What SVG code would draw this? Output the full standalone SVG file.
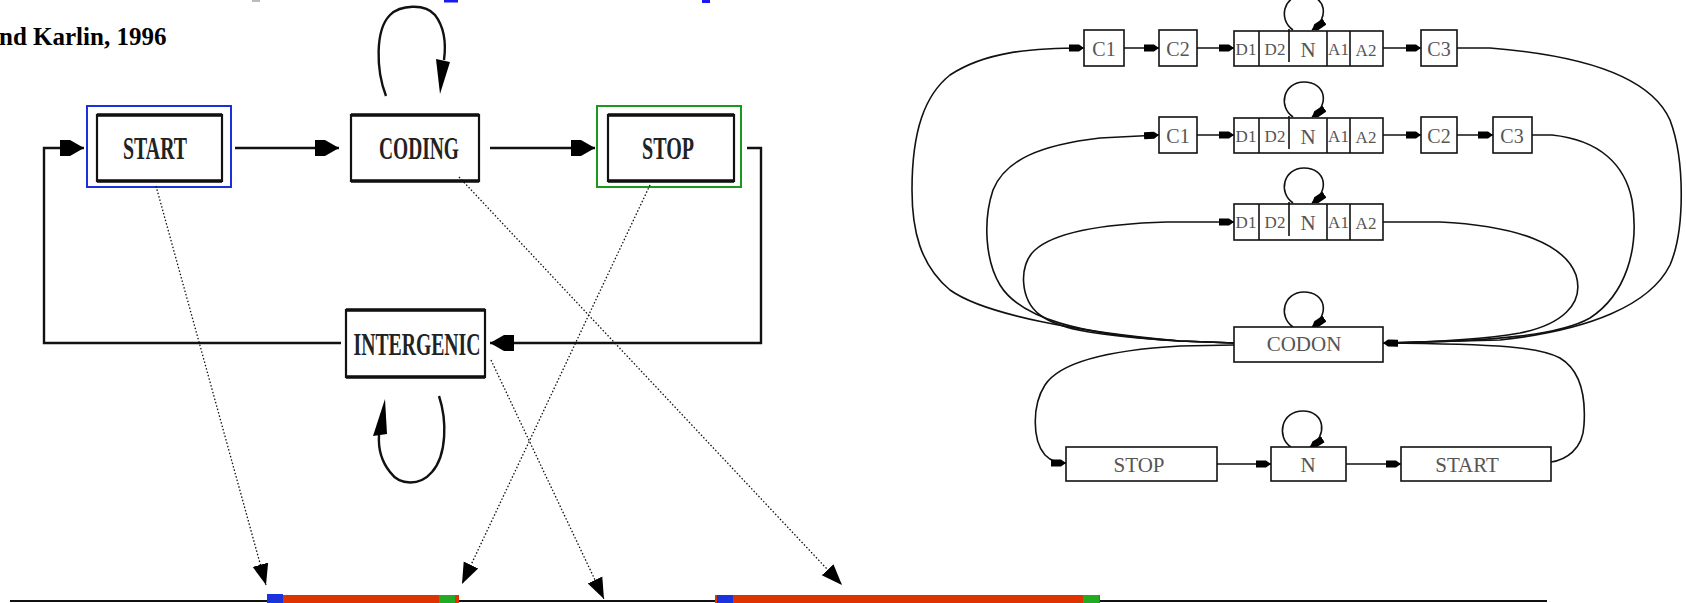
<svg xmlns="http://www.w3.org/2000/svg" width="1686" height="603" viewBox="0 0 1686 603">
<style>
.lbl{font-family:"Liberation Serif","Times New Roman",serif;font-weight:bold;font-size:31px;fill:#222;text-anchor:middle}
.rl{font-family:"Liberation Serif","Times New Roman",serif;fill:#555;text-anchor:middle}
.box{fill:#fff;stroke:#111;stroke-width:2.2}
.rbox{fill:#fff;stroke:#111;stroke-width:1.6}
.edge{fill:none;stroke:#111;stroke-width:2.4}
.redge{fill:none;stroke:#111;stroke-width:1.6}
.dot{fill:none;stroke:#111;stroke-width:1.3;stroke-dasharray:1.5 2}
.thick{stroke:#111;stroke-width:3.5}
</style>
<defs>
<marker id="big" markerUnits="userSpaceOnUse" markerWidth="26" markerHeight="20" viewBox="0 -10 26 20" refX="24" refY="0" orient="auto"><path d="M0,-8 L10,-8 L24,0 L10,8 L0,8 Z" fill="#000"/></marker>
<marker id="tri" markerUnits="userSpaceOnUse" markerWidth="22" markerHeight="18" viewBox="0 -9 22 18" refX="21" refY="0" orient="auto"><path d="M0,-8 L21,0 L0,8 Z" fill="#000"/></marker>
<marker id="sm" markerUnits="userSpaceOnUse" markerWidth="16" markerHeight="10" viewBox="0 -5 16 10" refX="15" refY="0" orient="auto"><path d="M0,-3.5 L10,-3.5 L15,0 L10,3.5 L0,3.5 Z" fill="#000"/></marker>
</defs>

<!-- top fragments -->
<g id="top-fragments">
<rect x="252" y="0" width="8" height="2" fill="#bbb"/>
<rect x="444" y="0" width="14" height="2.5" fill="#1a1aee"/>
<rect x="702" y="0" width="8" height="3" fill="#1a1aee"/>
<text x="-1" y="45" font-family="Liberation Serif, Times New Roman, serif" font-weight="bold" font-size="25" fill="#000">nd Karlin, 1996</text>
</g>

<!-- left state diagram connectors -->
<g id="connectors-left">
<path class="edge" d="M341,343 H44 V148 H84" marker-end="url(#big)"/>
<path class="edge" d="M235,148 H339" marker-end="url(#big)"/>
<path class="edge" d="M490,148 H595" marker-end="url(#big)"/>
<path class="edge" d="M747,148 H761 V343 H490" marker-end="url(#big)"/>
<path class="edge" d="M386,96 C376,70 375,30 390,15 C400,5 425,3 435,15 C445,28 446,45 444,60"/>
<polygon points="436,59 450,62 440,94" fill="#000"/>
<path class="edge" d="M439,396 C447,420 447,455 432,472 C420,486 400,486 390,472 C382,462 378,450 379,435"/>
<polygon points="373,436 387,434 385,399" fill="#000"/>
</g>

<g id="node-start">
<rect x="87" y="106" width="144" height="81" fill="none" stroke="#1a2fe0" stroke-width="2"/>
<rect class="box" x="97" y="115" width="125" height="66"/>
<line class="thick" x1="97" y1="115" x2="222" y2="115"/><line class="thick" x1="97" y1="181" x2="222" y2="181"/>
<text class="lbl" x="155" y="159" textLength="64" lengthAdjust="spacingAndGlyphs">START</text>
</g>
<g id="node-coding">
<rect class="box" x="351" y="115" width="128" height="66"/>
<line class="thick" x1="351" y1="115" x2="479" y2="115"/><line class="thick" x1="351" y1="181" x2="479" y2="181"/>
<text class="lbl" x="419" y="159" textLength="80" lengthAdjust="spacingAndGlyphs">CODING</text>
</g>
<g id="node-stop">
<rect x="597" y="106" width="144" height="81" fill="none" stroke="#1a9a1a" stroke-width="2"/>
<rect class="box" x="608" y="115" width="126" height="66"/>
<line class="thick" x1="608" y1="115" x2="734" y2="115"/><line class="thick" x1="608" y1="181" x2="734" y2="181"/>
<text class="lbl" x="668" y="159" textLength="52" lengthAdjust="spacingAndGlyphs">STOP</text>
</g>
<g id="node-intergenic">
<rect class="box" x="346" y="310" width="139" height="67"/>
<line class="thick" x1="346" y1="310" x2="485" y2="310"/><line class="thick" x1="346" y1="377" x2="485" y2="377"/>
<text class="lbl" x="417" y="355" textLength="127" lengthAdjust="spacingAndGlyphs">INTERGENIC</text>
</g>

<!-- dotted mapping arrows -->
<g id="connectors-dotted">
<path class="dot" d="M156,186 L266,585" marker-end="url(#tri)"/>
<path class="dot" d="M650,185 L462,584" marker-end="url(#tri)"/>
<path class="dot" d="M491,360 L604,599" marker-end="url(#tri)"/>
<path class="dot" d="M459,177 L842,585" marker-end="url(#tri)"/>
</g>

<!-- gene track -->
<g id="gene-track">
<line x1="10" y1="601" x2="1547" y2="601" stroke="#111" stroke-width="2"/>
<rect x="267" y="595" width="192" height="8" fill="#dd3300"/>
<rect x="267" y="594" width="16" height="9" fill="#1a33dd"/>
<rect x="439" y="595" width="16" height="8" fill="#22aa22"/>
<rect x="715" y="595" width="385" height="8" fill="#dd3300"/>
<rect x="717" y="595" width="16" height="8" fill="#1a33dd"/>
<rect x="1083" y="595" width="16" height="8" fill="#22aa22"/>
</g>

<!-- right diagram connectors -->
<g id="connectors-right">
<path class="redge" d="M1124,48 H1159" marker-end="url(#sm)"/>
<path class="redge" d="M1197,48 H1234" marker-end="url(#sm)"/>
<path class="redge" d="M1383,48 H1421" marker-end="url(#sm)"/>
<path class="redge" d="M1197,135 H1234" marker-end="url(#sm)"/>
<path class="redge" d="M1383,135 H1421" marker-end="url(#sm)"/>
<path class="redge" d="M1457,135 H1493" marker-end="url(#sm)"/>
<path class="redge" d="M1217,464 H1271" marker-end="url(#sm)"/>
<path class="redge" d="M1346,464 H1401" marker-end="url(#sm)"/>
<path class="redge" d="M1234,343 L1180,341 C1080,332 985,315 950,290 C920,265 912,230 912,190 C912,130 925,95 950,75 C985,52 1030,48 1084,48" marker-end="url(#sm)"/>
<path class="redge" d="M1234,343 L1180,341 C1080,335 1020,318 1000,285 C985,260 983,220 993,190 C1005,160 1040,145 1100,138 L1159,135" marker-end="url(#sm)"/>
<path class="redge" d="M1234,343 L1180,341 C1100,336 1060,330 1040,315 C1020,300 1018,265 1035,250 C1055,232 1100,224 1167,222 L1234,222" marker-end="url(#sm)"/>
<path class="redge" d="M1234,345 L1180,346 C1110,350 1060,362 1045,385 C1032,405 1032,440 1045,455 C1052,462 1058,463 1066,463" marker-end="url(#sm)"/>
<path class="redge" d="M1457,48 L1490,48 C1580,55 1650,75 1670,120 C1685,160 1685,230 1670,265 C1650,305 1590,330 1500,340 L1383,343"/>
<path class="redge" d="M1532,135 L1552,135 C1600,140 1625,165 1632,200 C1640,250 1625,295 1590,318 C1560,335 1500,341 1383,343"/>
<path class="redge" d="M1383,222 L1440,222 C1520,226 1565,245 1576,275 C1585,305 1560,325 1520,333 C1480,340 1430,342 1383,343"/>
<path class="redge" d="M1551,462 C1565,460 1583,450 1584,425 C1586,395 1580,370 1560,358 C1540,347 1500,344 1383,343" marker-end="url(#sm)"/>
<path class="redge" d="M1293,30 C1278,20 1283,-5 1304,-5 C1326,-5 1330,18 1312,30" marker-end="url(#sm)"/>
<path class="redge" d="M1293,117 C1278,107 1283,82 1304,82 C1326,82 1330,105 1312,117" marker-end="url(#sm)"/>
<path class="redge" d="M1293,203 C1278,193 1283,168 1304,168 C1326,168 1330,191 1312,203" marker-end="url(#sm)"/>
<path class="redge" d="M1293,327 C1278,317 1283,292 1304,292 C1326,292 1330,315 1312,327" marker-end="url(#sm)"/>
<path class="redge" d="M1291,447 C1276,437 1281,411 1303,411 C1325,411 1328,436 1310,447" marker-end="url(#sm)"/>
</g>

<!-- right diagram nodes -->
<g id="r1-c1"><rect class="rbox" x="1084" y="30" width="40" height="36"/><text class="rl" x="1104" y="56" font-size="20">C1</text></g>
<g id="r1-c2"><rect class="rbox" x="1159" y="30" width="38" height="36"/><text class="rl" x="1178" y="56" font-size="20">C2</text></g>
<g id="r1-core">
<rect class="rbox" x="1234" y="31" width="149" height="35"/>
<line class="redge" x1="1259" y1="31" x2="1259" y2="66"/><line class="redge" x1="1289" y1="29" x2="1289" y2="62"/>
<line class="redge" x1="1327" y1="31" x2="1327" y2="66"/><line class="redge" x1="1350" y1="31" x2="1350" y2="66"/>
<text class="rl" x="1246" y="55" font-size="17">D1</text><text class="rl" x="1275" y="55" font-size="17">D2</text>
<text class="rl" x="1308" y="57" font-size="21">N</text><text class="rl" x="1338.5" y="55" font-size="17">A1</text><text class="rl" x="1366" y="56" font-size="17">A2</text>
</g>
<g id="r1-c3"><rect class="rbox" x="1421" y="30" width="36" height="36"/><text class="rl" x="1439" y="56" font-size="20">C3</text></g>

<g id="r2-c1"><rect class="rbox" x="1159" y="117" width="38" height="36"/><text class="rl" x="1178" y="143" font-size="20">C1</text></g>
<g id="r2-core">
<rect class="rbox" x="1234" y="118" width="149" height="35"/>
<line class="redge" x1="1259" y1="118" x2="1259" y2="153"/><line class="redge" x1="1289" y1="116" x2="1289" y2="149"/>
<line class="redge" x1="1327" y1="118" x2="1327" y2="153"/><line class="redge" x1="1350" y1="118" x2="1350" y2="153"/>
<text class="rl" x="1246" y="142" font-size="17">D1</text><text class="rl" x="1275" y="142" font-size="17">D2</text>
<text class="rl" x="1308" y="144" font-size="21">N</text><text class="rl" x="1338.5" y="142" font-size="17">A1</text><text class="rl" x="1366" y="143" font-size="17">A2</text>
</g>
<g id="r2-c2"><rect class="rbox" x="1421" y="117" width="36" height="36"/><text class="rl" x="1439" y="143" font-size="20">C2</text></g>
<g id="r2-c3"><rect class="rbox" x="1493" y="117" width="39" height="36"/><text class="rl" x="1512" y="143" font-size="20">C3</text></g>

<g id="r3-core">
<rect class="rbox" x="1234" y="204" width="149" height="36"/>
<line class="redge" x1="1259" y1="204" x2="1259" y2="240"/><line class="redge" x1="1289" y1="202" x2="1289" y2="236"/>
<line class="redge" x1="1327" y1="204" x2="1327" y2="240"/><line class="redge" x1="1350" y1="204" x2="1350" y2="240"/>
<text class="rl" x="1246" y="228" font-size="17">D1</text><text class="rl" x="1275" y="228" font-size="17">D2</text>
<text class="rl" x="1308" y="230" font-size="21">N</text><text class="rl" x="1338.5" y="228" font-size="17">A1</text><text class="rl" x="1366" y="229" font-size="17">A2</text>
</g>

<g id="codon"><rect class="rbox" x="1234" y="327" width="149" height="35"/><text class="rl" x="1304" y="351" font-size="21">CODON</text></g>
<g id="r-stop"><rect class="rbox" x="1066" y="447" width="151" height="34"/><text class="rl" x="1139" y="472" font-size="21">STOP</text></g>
<g id="r-n"><rect class="rbox" x="1271" y="447" width="75" height="34"/><text class="rl" x="1308" y="472" font-size="21">N</text></g>
<g id="r-start"><rect class="rbox" x="1401" y="447" width="150" height="34"/><text class="rl" x="1467" y="472" font-size="21">START</text></g>
</svg>
